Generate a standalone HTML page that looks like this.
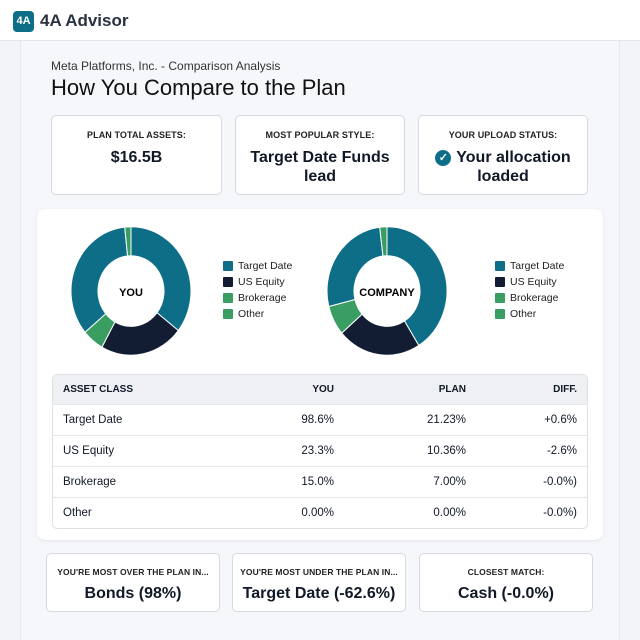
<!DOCTYPE html>
<html><head><style>
*{margin:0;padding:0;box-sizing:border-box}
body{width:640px;height:640px;background:#f2f4f7;font-family:"Liberation Sans",sans-serif;color:#111827;position:relative;overflow:hidden}
.abs{position:absolute}
.hdr{left:0;top:0;width:640px;height:41px;background:#fff;border-bottom:1px solid #e2e5ea}
.logo{left:13px;top:11px;width:21px;height:21px;background:#0e6e87;border-radius:4px;color:#fff;font-size:11px;font-weight:bold;text-align:center;line-height:21px}
.brand{left:40px;top:11px;font-size:17px;font-weight:bold;color:#2a3240}
.panel{left:20px;top:41px;width:600px;height:599px;background:#f5f7fa;border-left:1px solid #e6e9ee;border-right:1px solid #e6e9ee}
.card{background:#fff;border:1px solid #d6d9df;border-radius:5px;text-align:center}
.lbl{font-size:9px;font-weight:bold;color:#222;letter-spacing:0.1px}
.val{font-size:16px;font-weight:bold;color:#111827;line-height:19px}
.big{left:37px;top:209px;width:566px;height:331px;background:#fff;border-radius:8px;box-shadow:0 1px 3px rgba(0,0,0,0.08)}
table{border-collapse:collapse;width:100%;font-size:11.5px}
.tbl{left:52px;top:374px;width:536px;border:1px solid #dde1e6;border-radius:5px;overflow:hidden;background:#fff}
td{height:31px;padding:0 10px;border-top:1px solid #e4e7eb}
tr.h td{background:#eef0f3;font-size:10px;font-weight:bold;height:29px;border-top:none}
td.r{text-align:right}
.leg{font-size:10.5px;color:#222}
.leg div{height:16px;line-height:16px;position:relative;padding-left:15px}
.leg span{position:absolute;left:0;top:3px;width:10px;height:10px;border-radius:1px}
</style></head><body>
<div class="abs hdr"></div>
<div class="abs logo">4A</div>
<div class="abs brand">4A Advisor</div>
<div class="abs panel"></div>
<div class="abs" style="left:51px;top:59px;font-size:12px;color:#333">Meta Platforms, Inc. - Comparison Analysis</div>
<div class="abs" style="left:51px;top:75px;font-size:22px;color:#111">How You Compare to the Plan</div>

<div class="abs card" style="left:51px;top:115px;width:171px;height:80px"><div class="lbl" style="margin-top:14px">PLAN TOTAL ASSETS:</div><div class="val" style="margin-top:8px">$16.5B</div></div>
<div class="abs card" style="left:235px;top:115px;width:170px;height:80px"><div class="lbl" style="margin-top:14px">MOST POPULAR STYLE:</div><div class="val" style="margin-top:8px">Target Date Funds<br>lead</div></div>
<div class="abs card" style="left:418px;top:115px;width:170px;height:80px"><div class="lbl" style="margin-top:14px">YOUR UPLOAD STATUS:</div><div class="val" style="margin-top:8px"><span style="display:inline-block;width:16px;height:16px;border-radius:50%;background:#0e6e87;color:#fff;font-size:11px;line-height:16px;vertical-align:1px;margin-right:5px">✓</span>Your allocation<br>loaded</div></div>

<div class="abs big"></div>
<svg class="abs" style="left:0;top:0" width="640" height="640" id="s"></svg>
<script>
function seg(cx,cy,a0,a1,col){var R=60,r=33,k=1.07;function p(rad,a){var t=(a-90)*Math.PI/180;return [cx+rad*Math.cos(t),cy+rad*k*Math.sin(t)]}
var l=(a1-a0)>180?1:0,A=p(R,a0),B=p(R,a1),C=p(r,a1),D=p(r,a0);
return '<path d="M'+A+' A'+R+','+R*k+' 0 '+l+' 1 '+B+' L'+C+' A'+r+','+r*k+' 0 '+l+' 0 '+D+'Z" fill="'+col+'" stroke="#fff" stroke-width="1"/>';}
var T='#0e6e87',N='#121d33',G='#3a9e63',h='';
[[0,128,T],[128,209,N],[209,230,G],[230,354,T],[354,360,G]].forEach(function(s){h+=seg(131,291,s[0],s[1],s[2])});
[[0,148,T],[148,229,N],[229,256,G],[256,353,T],[353,360,G]].forEach(function(s){h+=seg(387,291,s[0],s[1],s[2])});
h+='<text x="131" y="296" text-anchor="middle" font-size="11" font-weight="bold" font-family="Liberation Sans">YOU</text>';
h+='<text x="387" y="296" text-anchor="middle" font-size="11" font-weight="bold" font-family="Liberation Sans">COMPANY</text>';
document.getElementById('s').innerHTML=h;
</script>
<div class="abs leg" style="left:223px;top:258px"><div><span style="background:#0e6e87"></span>Target Date</div><div><span style="background:#121d33"></span>US Equity</div><div><span style="background:#3a9e63"></span>Brokerage</div><div><span style="background:#3a9e63"></span>Other</div></div>
<div class="abs leg" style="left:495px;top:258px"><div><span style="background:#0e6e87"></span>Target Date</div><div><span style="background:#121d33"></span>US Equity</div><div><span style="background:#3a9e63"></span>Brokerage</div><div><span style="background:#3a9e63"></span>Other</div></div>

<div class="abs tbl"><table>
<tr class="h"><td>ASSET CLASS</td><td class="r" style="width:150px">YOU</td><td class="r" style="width:132px">PLAN</td><td class="r" style="width:111px">DIFF.</td></tr>
<tr><td>Target Date</td><td class="r">98.6%</td><td class="r">21.23%</td><td class="r">+0.6%</td></tr>
<tr><td>US Equity</td><td class="r">23.3%</td><td class="r">10.36%</td><td class="r">-2.6%</td></tr>
<tr><td>Brokerage</td><td class="r">15.0%</td><td class="r">7.00%</td><td class="r">-0.0%)</td></tr>
<tr><td>Other</td><td class="r">0.00%</td><td class="r">0.00%</td><td class="r">-0.0%)</td></tr>
</table></div>

<div class="abs card" style="left:46px;top:553px;width:174px;height:59px"><div class="lbl" style="margin-top:13px;font-size:8.5px">YOU'RE MOST OVER THE PLAN IN...</div><div class="val" style="margin-top:7px">Bonds (98%)</div></div>
<div class="abs card" style="left:232px;top:553px;width:174px;height:59px"><div class="lbl" style="margin-top:13px;font-size:8.5px">YOU'RE MOST UNDER THE PLAN IN...</div><div class="val" style="margin-top:7px">Target Date (-62.6%)</div></div>
<div class="abs card" style="left:419px;top:553px;width:174px;height:59px"><div class="lbl" style="margin-top:13px;font-size:8.5px">CLOSEST MATCH:</div><div class="val" style="margin-top:7px">Cash (-0.0%)</div></div>
</body></html>
